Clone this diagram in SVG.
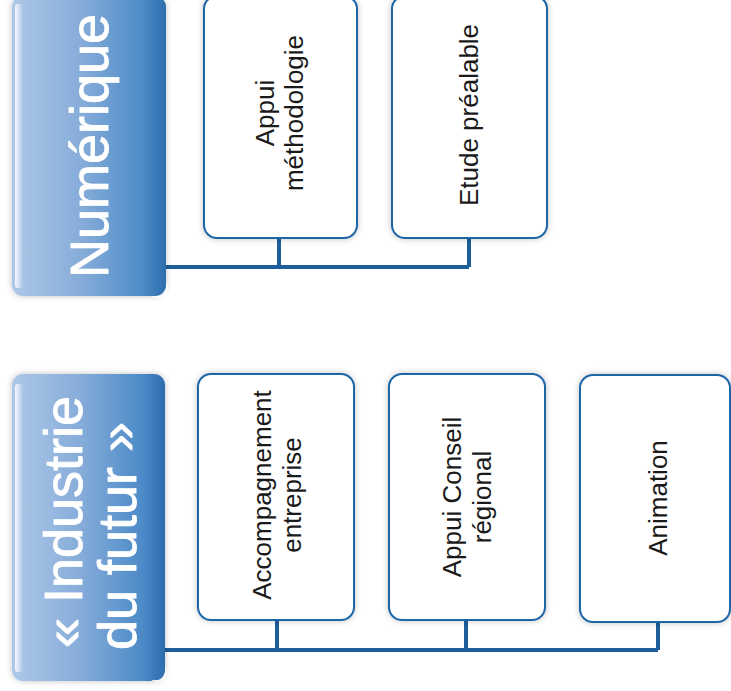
<svg xmlns="http://www.w3.org/2000/svg" width="731" height="691" viewBox="0 0 731 691">
<defs>
<linearGradient id="hdr" x1="0" y1="0" x2="1" y2="0">
<stop offset="0" stop-color="#aec8e8"/>
<stop offset="0.45" stop-color="#86acd9"/>
<stop offset="0.85" stop-color="#4d8bc8"/>
<stop offset="1" stop-color="#2c6dae"/>
</linearGradient>
<linearGradient id="hl" x1="0" y1="0" x2="1" y2="0">
<stop offset="0" stop-color="#ffffff" stop-opacity="0.9"/>
<stop offset="1" stop-color="#ffffff" stop-opacity="0"/>
</linearGradient>
<filter id="sh" x="-10%" y="-10%" width="120%" height="120%">
<feGaussianBlur in="SourceAlpha" stdDeviation="3"/>
<feOffset dx="0" dy="0"/>
<feComponentTransfer><feFuncA type="linear" slope="0.25"/></feComponentTransfer>
<feMerge><feMergeNode/><feMergeNode in="SourceGraphic"/></feMerge>
</filter>
</defs>
<style>
.hbox{fill:url(#hdr);filter:url(#sh);}
.hl{fill:url(#hl);}
.htxt{font-family:"Liberation Sans",Arial,sans-serif;font-size:54px;fill:#ffffff;stroke:#ffffff;stroke-width:0.8;text-anchor:middle;}
.box{fill:#ffffff;stroke:#1f66a8;stroke-width:2;filter:url(#sh);}
.txt{font-family:"Liberation Sans",Arial,sans-serif;font-size:26px;fill:#1a1a1a;text-anchor:middle;}
.con{fill:none;stroke:#1d5e9b;stroke-width:4;}
</style>
<rect width="731" height="691" fill="#ffffff"/>

<g id="connectors">
<path class="con" d="M166,267 H469 M279,238 V267 M469,238 V267"/>
<path class="con" d="M165,650 H658 M277,620 V650 M466,620 V650 M658,622 V650"/>
</g>

<g id="numerique">
<rect class="hbox" x="12" y="-4" width="154" height="300" rx="11"/>
<rect class="hl" x="15" y="4" width="8" height="284" rx="3"/>
<path d="M166,282 v6 a8,8 0 0 1 -8,8 h-6 a10,10 0 0 0 14,-14z" fill="#ffffff" opacity="0.85"/>
<text class="htxt" transform="translate(108,146) rotate(-90)" x="0" y="0">Numérique</text>
</g>

<g id="appui-methodologie">
<rect class="box" x="204" y="-4" width="153" height="242" rx="13"/>
<text class="txt" transform="translate(280,113) rotate(-90)"><tspan x="0" y="-6">Appui</tspan><tspan x="0" y="23">méthodologie</tspan></text>
</g>

<g id="etude-prealable">
<rect class="box" x="392" y="-4" width="155" height="242" rx="13"/>
<text class="txt" transform="translate(469,115) rotate(-90)" x="0" y="9">Etude préalable</text>
</g>

<g id="industrie-futur">
<rect class="hbox" x="12" y="374" width="153" height="307" rx="11"/>
<rect class="hl" x="15" y="384" width="8" height="288" rx="3"/>
<path d="M165,666 v6 a8,8 0 0 1 -8,8 h-6 a10,10 0 0 0 14,-14z" fill="#ffffff" opacity="0.85"/>
<text class="htxt" transform="rotate(-90)"><tspan x="-522" y="82">« Industrie</tspan><tspan x="-536" y="136">du futur »</tspan></text>
</g>

<g id="accompagnement">
<rect class="box" x="198" y="374" width="156" height="246" rx="13"/>
<text class="txt" transform="translate(276,495) rotate(-90)"><tspan x="0" y="-5">Accompagnement</tspan><tspan x="0" y="25">entreprise</tspan></text>
</g>

<g id="appui-conseil">
<rect class="box" x="389" y="374" width="156" height="246" rx="13"/>
<text class="txt" transform="translate(467,497) rotate(-90)"><tspan x="0" y="-6">Appui Conseil</tspan><tspan x="0" y="24">régional</tspan></text>
</g>

<g id="animation">
<rect class="box" x="580" y="375" width="150" height="247" rx="13"/>
<text class="txt" transform="translate(657,498) rotate(-90)" x="0" y="10">Animation</text>
</g>
</svg>
